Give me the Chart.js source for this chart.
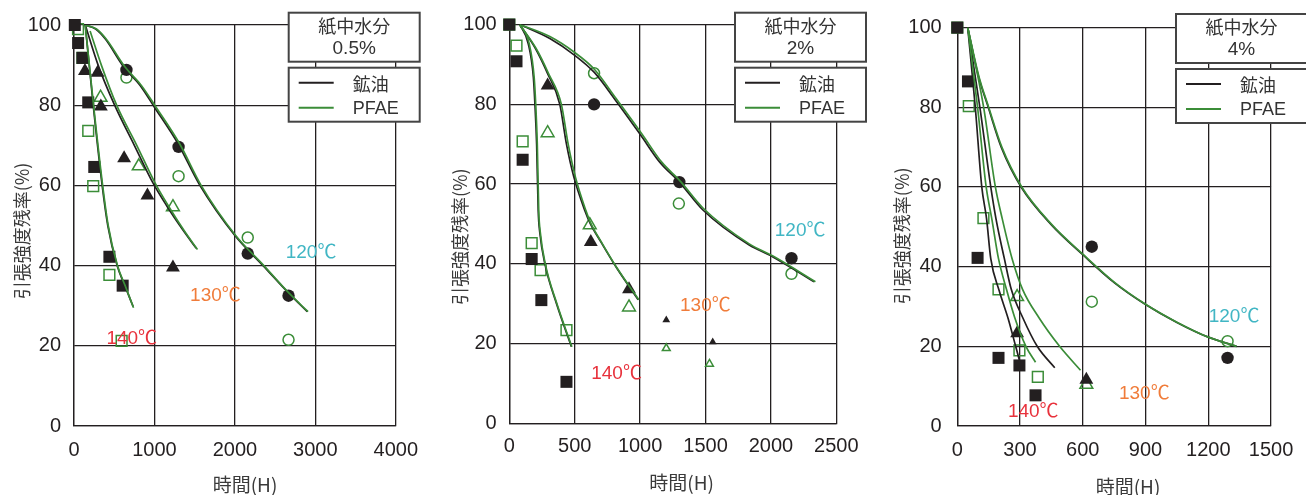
<!DOCTYPE html>
<html>
<head>
<meta charset="utf-8">
<script src="https://cdn.jsdelivr.net/npm/chart.js@4.4.0/dist/chart.umd.min.js"></script>
<style>
  body{margin:0;background:#fff;}
  .panel{position:absolute;top:0;}
</style>
</head>
<body>
<canvas id="c1" class="panel" width="430" height="495" style="left:0"></canvas>
<canvas id="c2" class="panel" width="440" height="495" style="left:430px"></canvas>
<canvas id="c3" class="panel" width="436" height="495" style="left:870px"></canvas>
<script>
// ---- data: [time(H), residual tensile strength(%)] ----
// moisture 0.5%
const p1SqOil   = [[10,100],[51,95.5],[105,91.8],[177,80.7],[252,64.6],[440,42.2],[605,35]];
const p1SqPfae  = [[50,99],[105,91.8],[177,73.6],[239,59.8],[440,37.7],[592,21.2]];
const p1TriOil  = [[136,88.5],[293,88.1],[334,79.7],[623,66.8],[913,57.5],[1230,39.5]];
const p1TriPfae = [[330,81.9],[805,64.8],[1230,54.6]];
const p1CirOil  = [[652,88.8],[1300,69.6],[2160,43],[2667,32.5]];
const p1CirPfae = [[652,86.9],[1300,62.3],[2160,47],[2667,21.5]];
const p1C140Oil  = [[140,100],[239,80],[350,60],[420,50],[536,40],[632,35],[735,29.8]];
const p1C140Pfae = [[140,100],[243,80],[356,60],[425,50],[540,40],[636,35],[740,29.5]];
const p1C130Oil  = [[140,100],[300,90],[505,80],[750,70],[985,60.5],[1150,55],[1350,49],[1520,44.3]];
const p1C130Pfae = [[200,98.5],[340,90],[530,80],[780,70],[1010,60.5],[1170,55],[1360,49],[1535,44]];
const p1C120Oil  = [[140,100],[270,99],[390,96.5],[620,89.5],[820,85],[1000,79.5],[1290,70.5],[1565,60],[2000,47.5],[2350,40],[2675,33],[2900,28.5]];
const p1C120Pfae = [[140,100],[280,99],[400,96.5],[635,89.5],[835,85],[1020,79.5],[1310,70.5],[1580,60],[2010,47.5],[2360,40],[2680,33],[2910,28.5]];

// moisture 2%
const p2SqOil   = [[0,100],[55,90.8],[102,66.1],[171,41.2],[245,30.9],[437,10.4]];
const p2SqPfae  = [[0,100],[55,94.7],[102,70.7],[171,45.2],[239,38.4],[437,23.4]];
const p2TriOil  = [[293,84.7],[623,45.5],[915,33.6]];
const p2TriPfae = [[293,72.8],[615,49.7],[915,29.1]];
const p2TriOilPart  = [[1200,25.9],[1555,20.4]];
const p2TriPfaePart = [[1200,18.8],[1530,14.9]];
const p2CirOil  = [[648,80],[1300,60.5],[2157,41.4]];
const p2CirPfae = [[648,87.8],[1296,55.1],[2157,37.5]];
const p2C140Oil  = [[80,100],[145,95.2],[184,86.8],[196,80],[209,70],[221,53.4],[234,47.6],[272,40],[361,30],[475,19.2]];
const p2C140Pfae = [[80,100],[152,95.2],[190,86.8],[202,80],[214,70],[225,53.4],[238,47.6],[275,40],[364,30],[478,19.2]];
const p2C130Oil  = [[80,100],[200,94],[293,87.7],[386,80],[437,70],[493,61.8],[577,53.4],[620,50],[700,45.5],[820,39],[985,31]];
const p2C130Pfae = [[80,100],[205,94],[300,87.7],[398,80],[450,70],[505,61.8],[585,53.4],[625,50],[703,45.5],[822,39],[990,31]];
const p2C120Oil  = [[80,100],[310,96.5],[500,92.3],[650,88],[806,81.3],[1000,72.5],[1150,65.5],[1300,60.5],[1480,53.5],[1834,44.7],[2012,41.8],[2330,35.5]];
const p2C120Pfae = [[80,100],[310,97],[500,93],[650,88.8],[815,81.5],[1015,72.5],[1165,65.5],[1300,61],[1480,54],[1834,45],[2012,42],[2340,35.5]];

// moisture 4%
const p3SqOil   = [[0,100],[51,86.5],[97,42.2],[197,17.1],[297,15.2],[374,7.7]];
const p3SqPfae  = [[0,100],[55,80.3],[125,52.2],[197,34.3],[297,19],[385,12.3]];
const p3TriOil  = [[286,23.3],[617,11.6]];
const p3TriPfae = [[286,32.4],[617,10.4]];
const p3CirOil  = [[643,45],[1292,17.1]];
const p3CirPfae = [[643,31.2],[1292,21.3]];
const p3C140Oil  = [[50,100],[86,80],[117,60],[140,52],[160,42],[200,34],[243,27],[279,20],[297,16.5]];
const p3C140Pfae = [[50,100],[97,80],[138,60],[165,52],[197,42],[235,34.3],[274,27.3],[328,20],[374,16]];
const p3C130Oil  = [[50,100],[108,80],[160,60],[185,52],[225,42],[258,34.3],[312,27.3],[382,20],[466,14.6]];
const p3C130Pfae = [[50,100],[126,80],[182,60],[215,52],[262,42],[312,34.3],[389,27.3],[489,20],[589,14]];
const p3C120Oil  = [[50,100],[100,88],[148,80],[210,70],[305,60],[450,50.5],[600,43],[750,36],[900,30.5],[1050,26],[1200,22.3],[1335,20]];
const p3C120Pfae = [[50,100],[102,88],[150,80],[213,70],[308,60],[453,50.5],[603,43],[753,36],[902,30.5],[1052,26],[1200,22.3],[1335,20]];

const yTicks = [0,20,40,60,80,100];
const moisture = ['0.5%','2%','4%'];
const tempNames = ['120℃','130℃','140℃'];
const seriesNames = ['鉱油','PFAE'];
const xTitle = '時間(H)';
const yTitle = '引張強度残率(%)';
// label anchors [x, y] per panel, order 120/130/140
const p1Labels = [[2947,43.2],[1758,32.5],[718,21.8]];
const p2Labels = [[2223,48.4],[1499,29.6],[820,12.4]];
const p3Labels = [[1323,27.4],[894,8.2],[363,3.5]];

const BLACK = '#231f20', GREEN = '#3b8d38';
const TEMP_COLORS = ['#41b6c4','#f07c3a','#e8323c'];
const NUM_FONT = "'Liberation Sans', Arial, sans-serif";
const JP_FONT = "'Noto Sans CJK JP', sans-serif";

const pts = arr => arr.map(([x,y]) => ({x, y}));
const curve = (arr, color) => ({ data: pts(arr), showLine: true, borderColor: color, borderWidth: 1.7,
  pointRadius: 0, cubicInterpolationMode: 'monotone', fill: false });
const mark = (arr, style, filled, r) => ({ data: pts(arr), showLine: false, pointStyle: style, pointRadius: r,
  pointBackgroundColor: filled ? BLACK : 'rgba(0,0,0,0)', pointBorderColor: filled ? BLACK : GREEN,
  pointBorderWidth: filled ? 0 : 1.5, clip: false });

const decor = {
  id: 'decor',
  afterDatasetsDraw(chart, args, o) {
    const ctx = chart.ctx, xs = chart.scales.x, ys = chart.scales.y;
    ctx.save();
    ctx.font = `19px ${NUM_FONT}, 'Noto Sans CJK JP'`;
    ctx.textAlign = 'center'; ctx.textBaseline = 'middle';
    o.labels.forEach(([x, y], i) => {
      ctx.fillStyle = TEMP_COLORS[i];
      ctx.fillText(tempNames[i], xs.getPixelForValue(x), ys.getPixelForValue(y));
    });
    ctx.restore();
  },
  afterDraw(chart, args, o) {
    const ctx = chart.ctx, bx = o.box[0], by = o.box[1], w = 131, h1 = 49, h2 = 54, gap = 6;
    ctx.save();
    // axis titles
    ctx.fillStyle = '#3a3a3a'; ctx.textAlign = 'center'; ctx.textBaseline = 'middle';
    ctx.font = `19px ${JP_FONT}`;
    ctx.fillText(xTitle, o.xt[0], o.xt[1]);
    ctx.save();
    ctx.translate(o.yt[0], o.yt[1]); ctx.rotate(-Math.PI / 2);
    ctx.font = `18px ${JP_FONT}`;
    ctx.fillText(yTitle, 0, 0);
    ctx.restore();
    // moisture + legend boxes
    ctx.lineWidth = 2; ctx.strokeStyle = '#444';
    ctx.fillStyle = '#fff';
    ctx.fillRect(bx, by, w, h1); ctx.strokeRect(bx, by, w, h1);
    const ly = by + h1 + gap;
    ctx.fillRect(bx, ly, w, h2); ctx.strokeRect(bx, ly, w, h2);
    ctx.fillStyle = '#333';
    ctx.font = `18px ${JP_FONT}`;
    ctx.fillText('紙中水分', bx + w / 2, by + 13);
    ctx.font = `19px ${NUM_FONT}`;
    ctx.fillText(o.water, bx + w / 2, by + 36);
    [BLACK, GREEN].forEach((c, i) => {
      const yy = ly + 15 + i * 25;
      ctx.strokeStyle = c; ctx.lineWidth = 2;
      ctx.beginPath(); ctx.moveTo(bx + 10, yy); ctx.lineTo(bx + 45, yy); ctx.stroke();
      ctx.textAlign = 'left';
      ctx.font = i === 0 ? `18px ${JP_FONT}` : `18px ${NUM_FONT}`;
      ctx.fillText(seriesNames[i], bx + 64, yy + 1);
    });
    ctx.restore();
  }
};

function panel(id, o) {
  const datasets = [
    curve(o.c140[1], GREEN), curve(o.c130[1], GREEN), curve(o.c120[1], GREEN),
    curve(o.c140[0], BLACK), curve(o.c130[0], BLACK), curve(o.c120[0], BLACK),
    mark(o.sq[0], 'rect', true, 8.5), mark(o.sq[1], 'rect', false, 7.6),
    mark(o.tri[0], 'triangle', true, 8), mark(o.tri[1], 'triangle', false, 7.4),
    mark(o.cir[0], 'circle', true, 6.2), mark(o.cir[1], 'circle', false, 5.5)
  ];
  (o.extra || []).forEach(e => datasets.push(mark(e[0], 'triangle', e[1], 4.5)));
  new Chart(document.getElementById(id), {
    type: 'scatter',
    data: { datasets },
    plugins: [decor],
    options: {
      responsive: false, animation: false, events: [],
      layout: { padding: { left: 0, right: o.padR, top: o.padT, bottom: 0 } },
      plugins: { legend: { display: false }, tooltip: { enabled: false },
        decor: { labels: o.labels, box: o.box, water: o.water, xt: o.xt, yt: o.yt } },
      scales: {
        x: { type: 'linear', min: 0, max: o.xMax,
          afterFit: s => { s.height = o.xH; },
          ticks: { stepSize: o.xStep, autoSkip: false, maxRotation: 0, padding: o.xPad, color: BLACK,
            callback: v => String(v), font: { family: NUM_FONT, size: 20 } },
          grid: { color: BLACK, lineWidth: 1.3, drawTicks: false },
          border: { color: BLACK, width: 1.3 } },
        y: { min: 0, max: 100,
          afterFit: s => { s.width = o.yW; },
          afterBuildTicks: s => { s.ticks = yTicks.map(v => ({ value: v })); },
          ticks: { padding: o.yPad, color: BLACK, callback: v => String(v), font: { family: NUM_FONT, size: 20 } },
          grid: { color: BLACK, lineWidth: 1.3, drawTicks: false },
          border: { color: BLACK, width: 1.3 } }
      }
    }
  });
}

panel('c1', { sq: [p1SqOil, p1SqPfae], tri: [p1TriOil, p1TriPfae], cir: [p1CirOil, p1CirPfae],
  c140: [p1C140Oil, p1C140Pfae], c130: [p1C130Oil, p1C130Pfae], c120: [p1C120Oil, p1C120Pfae],
  labels: p1Labels, water: moisture[0], xMax: 4000, xStep: 1000,
  padR: 33, padT: 23.3, xH: 69, yW: 74, xPad: 12, yPad: 13, xt: [245, 485], yt: [22, 231], box: [288.7, 12.7] });

panel('c2', { sq: [p2SqOil, p2SqPfae], tri: [p2TriOil, p2TriPfae], cir: [p2CirOil, p2CirPfae],
  c140: [p2C140Oil, p2C140Pfae], c130: [p2C130Oil, p2C130Pfae], c120: [p2C120Oil, p2C120Pfae],
  extra: [[p2TriOilPart, true], [p2TriPfaePart, false]],
  labels: p2Labels, water: moisture[1], xMax: 2500, xStep: 500,
  padR: 32.7, padT: 24.3, xH: 71.7, yW: 79.3, xPad: 11.4, yPad: 12.6, xt: [251.7, 483], yt: [30, 236.7], box: [305, 12.7] });

panel('c3', { sq: [p3SqOil, p3SqPfae], tri: [p3TriOil, p3TriPfae], cir: [p3CirOil, p3CirPfae],
  c140: [p3C140Oil, p3C140Pfae], c130: [p3C130Oil, p3C130Pfae], c120: [p3C120Oil, p3C120Pfae],
  labels: p3Labels, water: moisture[2], xMax: 1500, xStep: 300,
  padR: 23.7, padT: 25, xH: 69, yW: 87.3, xPad: 12.7, yPad: 15.6, xt: [258, 486.7], yt: [31.7, 235.8], box: [306, 14] });
</script>
</body>
</html>
